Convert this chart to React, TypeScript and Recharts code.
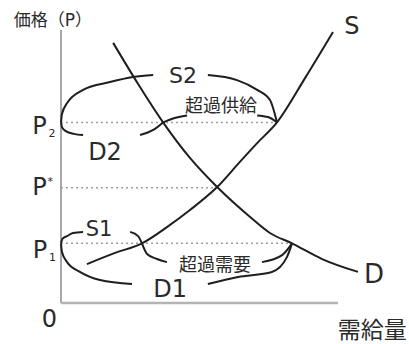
import { ComposedChart, Line, Scatter, XAxis, YAxis } from 'recharts';

// price levels
const P1 = 21.3;
const P_STAR = 41.2;
const P2 = 64.5;

// [quantity, price]
const supply = [[8.1, 13.9], [16.9, 17.9], [25.3, 21.3], [33.1, 27.1], [40.3, 33.2], [48.8, 41.4], [55.9, 50.4], [61.3, 57.1], [67.5, 64.5], [76.3, 80.4], [85, 96.8]];
const demand = [[16.3, 92.9], [24.1, 78.2], [31.9, 64.5], [40.3, 51.8], [48.8, 41.4], [59.1, 30.7], [65.3, 25], [72.2, 21.3], [81.6, 15.7], [92.8, 11.1]];

const guideP2 = [[0, P2], [67.5, P2]];
const guidePStar = [[0, P_STAR], [48.8, P_STAR]];
const guideP1 = [[0, P1], [72.2, P1]];

const axisY = [[0, 0], [0, 97.5]];
const axisX = [[0, 0], [86.6, 0]];

// brace-like arcs
const arcS2Left = [[0, P2], [0.3, 67.5], [1.9, 71.4], [6.9, 76.1], [15.3, 78.9], [22.5, 80.7], [28.8, 81.4]];
const arcS2Right = [[45.9, 81.4], [55, 79.6], [61.3, 76.1], [65.3, 72.5], [67.5, P2]];
const arcD2Left = [[0, P2], [0.3, 62.8], [1.5, 61.4], [4, 60.4], [6.9, 60]];
const arcD2Right = [[24.7, 60], [28.8, 61.8], [31.9, P2]];
const arcSurplusLeft = [[31.9, P2], [35, 65.9], [39.4, 67]];
const arcSurplusRight = [[61.3, 67], [64.7, 66.4], [67.5, P2]];
const arcS1Left = [[0, P1], [0.5, 23], [1.9, 23.9], [3.75, 25], [6.9, 25.4]];
const arcS1Right = [[21.6, 25.4], [24.1, 23.9], [25.3, P1]];
const arcShortageLeft = [[25.3, P1], [26.9, 17.5], [30, 15.7], [33.1, 14.6]];
const arcShortageRight = [[62.8, 14.6], [69.1, 17.1], [72.2, P1]];
const arcD1Left = [[0, P1], [0.3, 18.2], [1.9, 14.6], [5.9, 11.1], [12.2, 8.2], [22.2, 6.8]];
const arcD1Right = [[45.9, 6.8], [55.3, 9.3], [65.9, 11.1], [70.6, 16.4], [72.2, P1]];

const LABELS = [
  { q: -2.5, p: 101.1, text: '価格（P）', size: 17 },
  { q: 90.9, p: 98.9, text: 'S', size: 24 },
  { q: 97.8, p: 10.4, text: 'D', size: 26 },
  { q: 38.1, p: 81.4, text: 'S2', size: 22 },
  { q: 13.75, p: 53.9, text: 'D2', size: 24 },
  { q: 11.9, p: 26.25, text: 'S1', size: 21 },
  { q: 34.1, p: 5, text: 'D1', size: 24 },
  { q: 50, p: 70.7, text: '超過供給', size: 18 },
  { q: 48.1, p: 13.9, text: '超過需要', size: 18 },
  { q: -6.7, p: 63.2, text: 'P', sub: '2', size: 24 },
  { q: -6.7, p: 41.6, text: 'P', sup: '*', size: 24 },
  { q: -6.6, p: 18.9, text: 'P', sub: '1', size: 24 },
  { q: -3.6, p: -5.7, text: '0', size: 24 },
  { q: 97.3, p: -9.6, text: '需給量', size: 23 },
];

const pts = (arr: number[][]) => arr.map(([q, p]) => ({ q, p }));

const FONT = "'DejaVu Sans', 'Noto Sans CJK JP', sans-serif";

const renderLabel = (props: any) => {
  const { cx, cy, payload } = props;
  return (
    <g>
      <text x={cx} y={cy} textAnchor="middle" dominantBaseline="central" fontSize={payload.size} fontFamily={FONT} fill="#2a2a2a">
        {payload.text}
      </text>
      {payload.sub && (
        <text x={cx + 9} y={cy + 11} fontSize={11} fontFamily={FONT} fill="#2a2a2a">{payload.sub}</text>
      )}
      {payload.sup && (
        <text x={cx + 8} y={cy - 2} fontSize={11} fontFamily={FONT} fill="#2a2a2a">{payload.sup}</text>
      )}
    </g>
  );
};

const curve = (data: number[][], key: string, stroke = '#1e1e1e', width = 2, dash?: string) => (
  <Line
    key={key}
    data={pts(data)}
    dataKey="p"
    type="monotone"
    stroke={stroke}
    strokeWidth={width}
    strokeDasharray={dash}
    dot={false}
    activeDot={false}
    isAnimationActive={false}
  />
);

export default function App() {
  return (
    <div style={{ position: 'absolute', left: 0, top: 0, background: '#fff' }}>
      <ComposedChart width={409} height={344} margin={{ top: 0, right: 0, bottom: 0, left: 0 }}>
        <XAxis type="number" dataKey="q" domain={[-19.0625, 108.75]} hide allowDataOverflow />
        <YAxis type="number" dataKey="p" domain={[-14.643, 108.214]} hide allowDataOverflow />
        {curve(axisY, 'axisY', '#a8a8a8', 2)}
        {curve(axisX, 'axisX', '#b4b4b4', 2.5)}
        {curve(guideP2, 'gP2', '#a0a0a0', 1.5, '2 3')}
        {curve(guidePStar, 'gPs', '#a0a0a0', 1.5, '2 3')}
        {curve(guideP1, 'gP1', '#a0a0a0', 1.5, '2 3')}
        {curve(supply, 'S')}
        {curve(demand, 'D')}
        {curve(arcS2Left, 'a1')}
        {curve(arcS2Right, 'a2')}
        {curve(arcD2Left, 'a3')}
        {curve(arcD2Right, 'a4')}
        {curve(arcSurplusLeft, 'a5')}
        {curve(arcSurplusRight, 'a6')}
        {curve(arcS1Left, 'a7')}
        {curve(arcS1Right, 'a8')}
        {curve(arcShortageLeft, 'a9')}
        {curve(arcShortageRight, 'a10')}
        {curve(arcD1Left, 'a11')}
        {curve(arcD1Right, 'a12')}
        <Scatter data={LABELS} dataKey="p" shape={renderLabel} isAnimationActive={false} />
      </ComposedChart>
    </div>
  );
}
